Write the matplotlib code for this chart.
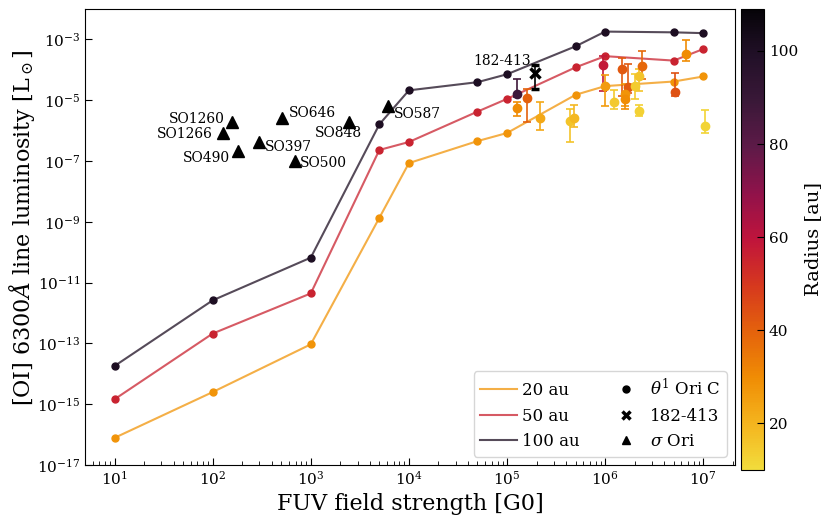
import numpy as np
import matplotlib
matplotlib.use('Agg')
import matplotlib.pyplot as plt
from matplotlib.colors import LinearSegmentedColormap, Normalize
from matplotlib.lines import Line2D
import matplotlib.cm as cm

plt.rcParams['font.family'] = 'DejaVu Serif'
plt.rcParams['mathtext.fontset'] = 'dejavuserif'

# model grid
g0_grid = [10, 100, 1e3, 5e3, 1e4, 5e4, 1e5, 5e5, 1e6, 5e6, 1e7]
lum_20au = [7.8e-17, 2.5e-15, 9.3e-14, 1.35e-9, 8.5e-8, 4.5e-7, 8.3e-7, 1.5e-5, 2.9e-5, 4.1e-5, 6.0e-5]
lum_50au = [1.45e-15, 2.1e-13, 4.4e-12, 2.3e-7, 4.2e-7, 4.2e-6, 1.1e-5, 1.2e-4, 2.8e-4, 2.0e-4, 4.8e-4]
lum_100au = [1.8e-14, 2.6e-12, 6.6e-11, 1.6e-6, 2.1e-5, 3.9e-5, 7.1e-5, 5.9e-4, 1.8e-3, 1.7e-3, 1.6e-3]
model_radii = [20, 50, 100]

# theta1 Ori C observations
obs_g0 = [1.27e5, 1.27e5, 1.58e5, 2.19e5, 4.4e5, 4.8e5, 9.5e5, 1.0e6, 1.23e6, 1.48e6,
          1.7e6, 1.6e6, 1.6e6, 2.0e6, 2.2e6, 2.2e6, 2.36e6, 5.2e6, 6.7e6, 1.05e7]
obs_lum = [1.57e-5, 5.5e-6, 1.14e-5, 2.5e-6, 2.1e-6, 2.5e-6, 1.44e-4, 2.9e-5, 8.8e-6, 1.09e-4,
           2.7e-5, 1.57e-5, 1.08e-5, 2.9e-5, 6.0e-5, 4.5e-6, 1.33e-4, 1.8e-5, 3.2e-4, 1.44e-6]
obs_lo = [1.23e-5, 3.05e-6, 1.95e-6, 1.06e-6, 4.1e-7, 1.27e-6, 2.0e-5, 6.2e-6, 5.1e-6, 1.38e-5,
          1.7e-5, 6.2e-6, 5.1e-6, 1.08e-5, 2.0e-5, 3.05e-6, 4.9e-5, 1.32e-5, 2.0e-4, 8.3e-7]
obs_hi = [4.9e-5, 8.4e-6, 2.4e-5, 8.4e-6, 5.3e-6, 6.9e-6, 2.8e-4, 6.6e-5, 2.2e-5, 2.5e-4,
          1.5e-4, 3.3e-5, 1.6e-5, 7.1e-5, 1.04e-4, 6.9e-6, 4.1e-4, 7.7e-5, 9.3e-4, 4.8e-6]
obs_radius = [88, 30, 40, 23, 16, 19, 58, 26, 15, 42,
              42, 28, 30, 14, 16, 13, 38, 44, 30, 12]

# 182-413
p182_g0 = 1.95e5
p182_lum = 8.1e-5
p182_lo = 2.4e-5
p182_hi = 1.4e-4

# sigma Ori
sori_names = ['SO1260', 'SO1266', 'SO490', 'SO397', 'SO646', 'SO848', 'SO500', 'SO587']
sori_g0 = [159, 128, 181, 297, 514, 2460, 692, 6150]
sori_lum = [1.86e-6, 8.1e-7, 2.2e-7, 4.3e-7, 2.5e-6, 1.95e-6, 1.03e-7, 6.2e-6]
sori_offsets = [(-8, 3, 'right'), (-10, -1, 'right'), (-8, -7, 'right'), (6, -5, 'left'),
                (6, 5, 'left'), (13, -11, 'right'), (5, -2, 'left'), (6, -8, 'left')]

cmap_colors = ['#f2dc3c', '#f4b41e', '#f08c04', '#e4620c', '#d6381e', '#c0143c',
               '#90124a', '#5e1a48', '#3a1838', '#221028', '#060408']
cmap = LinearSegmentedColormap.from_list('radius', cmap_colors)
vmin, vmax = 10, 109
norm = Normalize(vmin, vmax)
line_norm = Normalize(0, vmax)

fig = plt.figure(figsize=(8.3, 5.26), dpi=100)
ax = fig.add_axes([0.1024, 0.116, 0.783, 0.867])
cax = fig.add_axes([0.8928, 0.1065, 0.0277, 0.8764])

labels = ['20 au', '50 au', '100 au']
line_handles = []
for r, lum, lab in zip(model_radii, [lum_20au, lum_50au, lum_100au], labels):
    c = cmap(line_norm(r))
    ax.plot(g0_grid, lum, '-', color=c, alpha=0.75, lw=1.5, zorder=2)
    ax.plot(g0_grid, lum, 'o', color=c, ms=5, zorder=3)
    line_handles.append(Line2D([], [], color=c, alpha=0.75, lw=1.5, label=lab))

for x, y, lo, hi, r in zip(obs_g0, obs_lum, obs_lo, obs_hi, obs_radius):
    c = cmap(norm(r))
    ax.errorbar([x], [y], yerr=[[y - lo], [hi - y]], fmt='o', color=c, ms=6,
                capsize=3, elinewidth=1.2, capthick=1.2, zorder=4)

ax.errorbar([p182_g0], [p182_lum], yerr=[[p182_lum - p182_lo], [p182_hi - p182_lum]],
            fmt='x', color='black', ms=7, mew=2.5, capsize=3, elinewidth=1.2, zorder=5)
ax.annotate('182-413', (p182_g0, p182_lum), xytext=(-5, 12), textcoords='offset pixels',
            ha='right', va='center', fontsize=10)

ax.plot(sori_g0, sori_lum, '^', color='black', ms=8, ls='none', zorder=5)
for name, x, y, (dx, dy, ha) in zip(sori_names, sori_g0, sori_lum, sori_offsets):
    ax.annotate(name, (x, y), xytext=(dx, dy), textcoords='offset pixels',
                ha=ha, va='center', fontsize=10)

ax.set_xscale('log')
ax.set_yscale('log')
ax.set_xlim(5, 2.1e7)
ax.set_ylim(1e-17, 1e-2)
ax.set_yticks([10.0 ** k for k in range(-17, -2, 2)])
ax.yaxis.set_minor_locator(matplotlib.ticker.NullLocator())
ax.xaxis.set_minor_formatter(matplotlib.ticker.NullFormatter())
ax.tick_params(which='major', direction='in', length=5, labelsize=11)
ax.tick_params(which='minor', direction='in', length=3)
ax.set_xlabel('FUV field strength [G0]', fontsize=16)
ax.set_ylabel(r'[OI] 6300$\AA$ line luminosity [L$_\odot$]', fontsize=16)
ax.yaxis.set_label_coords(-0.074, 0.52)

marker_handles = [
    Line2D([], [], marker='o', color='black', ls='none', ms=5, label=r'$\theta^1$ Ori C'),
    Line2D([], [], marker='x', color='black', ls='none', ms=6, mew=2.5, label='182-413'),
    Line2D([], [], marker='^', color='black', ls='none', ms=6, label=r'$\sigma$ Ori'),
]
ax.legend(handles=line_handles + marker_handles, ncol=2, loc='lower right', fontsize=12,
          handlelength=2.2, handletextpad=0.3, columnspacing=1.7)

sm = cm.ScalarMappable(norm=norm, cmap=cmap)
cb = fig.colorbar(sm, cax=cax)
cb.set_ticks([20, 40, 60, 80, 100])
cb.ax.tick_params(direction='in', length=5, labelsize=11)
cb.set_label('Radius [au]', fontsize=14)

fig.savefig('out.png', dpi=100)
